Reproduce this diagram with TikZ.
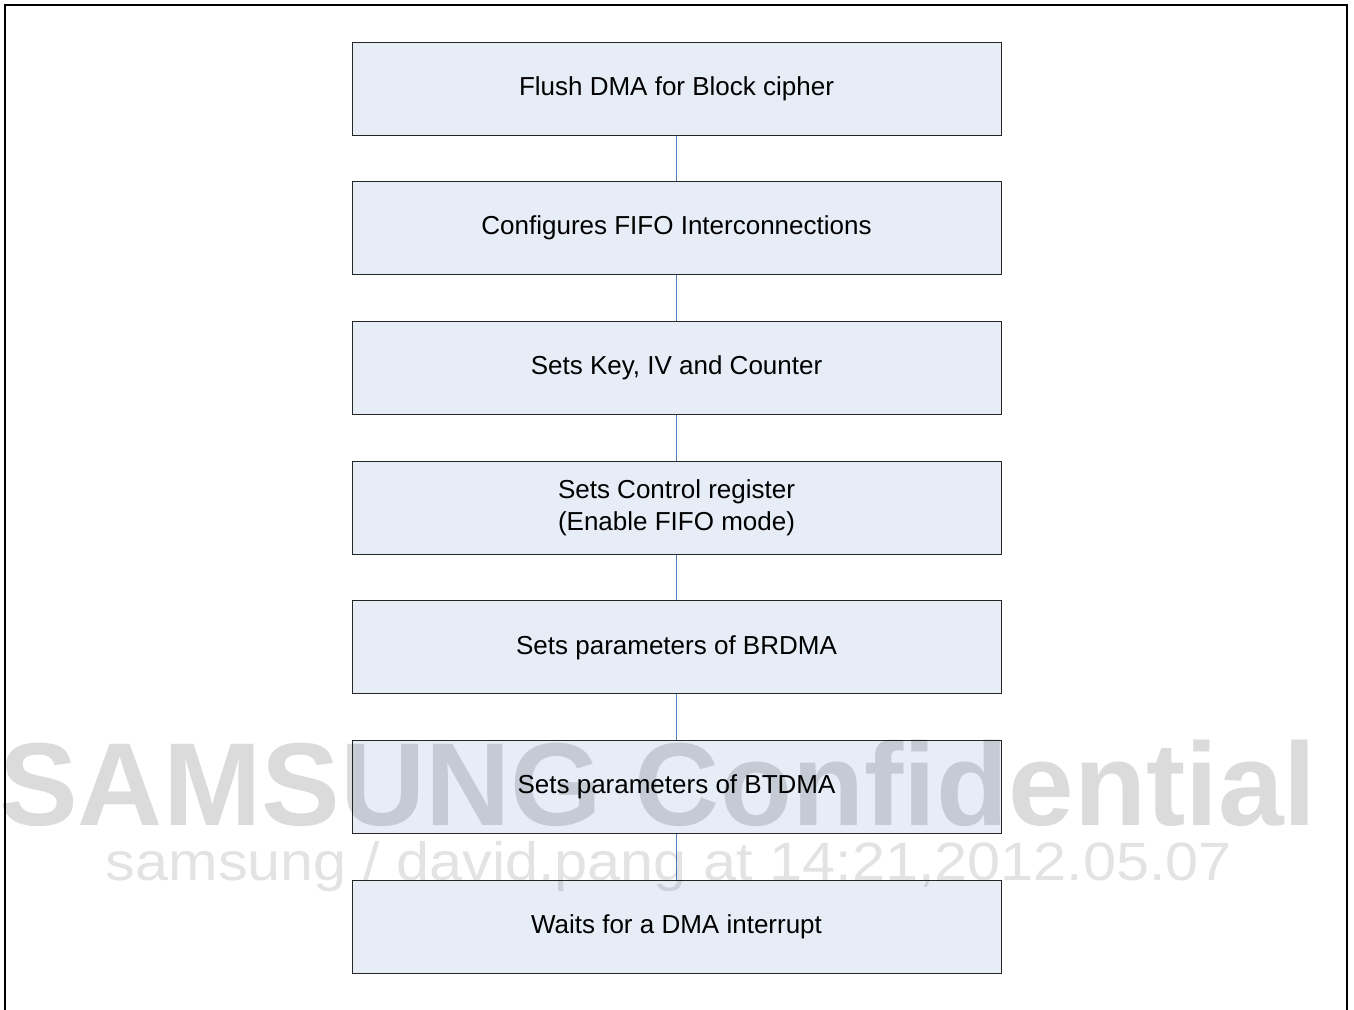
\documentclass[tikz,border=0pt]{standalone}
\usepackage{fontspec}
\setmainfont{Liberation Sans}
\usetikzlibrary{positioning}
\definecolor{dobkek}{HTML}{E6EDF7}
\definecolor{vonkek}{HTML}{4F81BD}
\tikzset{
  lepes/.style={draw=black!85,line width=0.5pt,fill=dobkek,
    minimum width=324.5pt,minimum height=46.5pt,inner sep=0pt,
    align=center,font=\fontsize{13}{16}\selectfont},
  kot/.style={draw=vonkek,line width=0.5pt},
  keret/.style={draw,line width=1pt},
  vizjel/.style={text=black,text opacity=0.14,inner sep=0pt},
}

\begin{document}
\begin{tikzpicture}[x=0.5pt,y=-0.5pt,node distance=22.85pt]
  \useasboundingbox (0,0) rectangle (1354,1009);
  \draw[keret] (5,1015) -- (5,5) -- (1347,5) -- (1347,1015);
  % lepesek
  \node[lepes] (flush) at (676.5,88.5) {Flush DMA for Block cipher};
  \node[lepes,below=of flush] (fifo) {Configures FIFO Interconnections};
  \node[lepes,below=of fifo] (kulcs) {Sets Key, IV and Counter};
  \node[lepes,below=of kulcs] (vezerl) {Sets Control register\\(Enable FIFO mode)};
  \node[lepes,below=of vezerl] (brdma) {Sets parameters of BRDMA};
  \node[lepes,below=of brdma] (btdma) {Sets parameters of BTDMA};
  \node[lepes,below=of btdma] (var) {Waits for a DMA interrupt};
  \foreach \a/\b in {flush/fifo,fifo/kulcs,kulcs/vezerl,vezerl/brdma,brdma/btdma,btdma/var}
    \draw[kot] (\a.south) -- (\b.north);
  % vizjel
  \node[vizjel,font=\fontsize{59}{59}\bfseries\selectfont,anchor=base] (conf)
    at (658,825) {SAMSUNG Confidential};
  \node[vizjel,text opacity=0.11,font=\fontsize{27}{27}\selectfont,anchor=base,xscale=1.1]
    (nev) at (669,880) {samsung / david.pang at 14:21,2012.05.07};
\end{tikzpicture}
\end{document}
